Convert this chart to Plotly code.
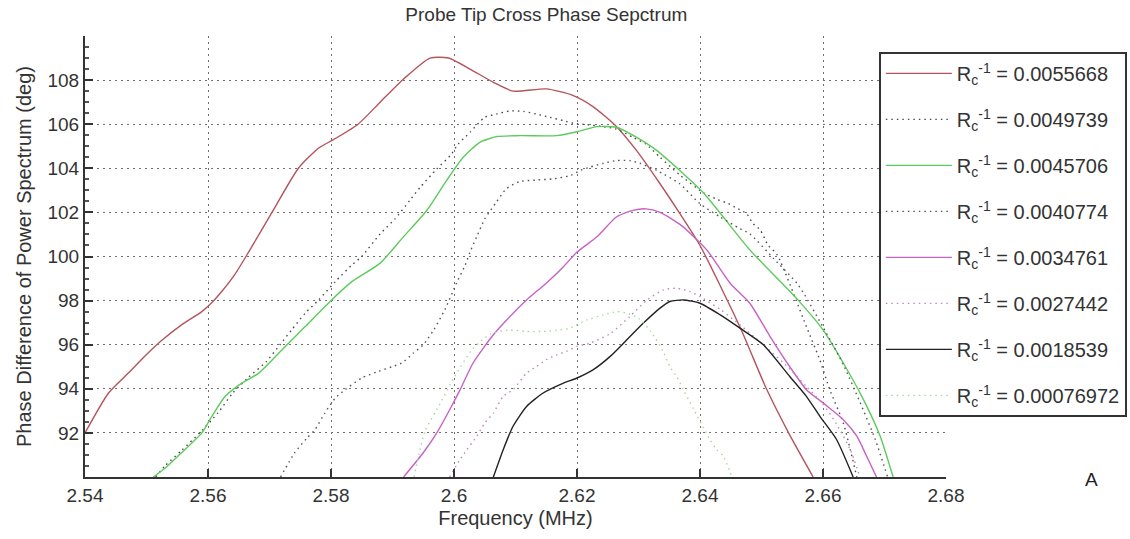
import plotly.graph_objects as go

# Frequency (MHz) / phase difference (deg) samples for each curvature value
red_x = [2.5400, 2.5438, 2.5470, 2.5498, 2.5525, 2.5557, 2.5590, 2.5606, 2.5622, 2.5644,
         2.5666, 2.5704, 2.5747, 2.5779, 2.5804, 2.5844, 2.5880, 2.5918, 2.5961, 2.5991,
         2.6026, 2.6064, 2.6096, 2.6150, 2.6194, 2.6226, 2.6264, 2.6297, 2.6335, 2.6366,
         2.6400, 2.6465, 2.6508, 2.6546, 2.6584]
red_y = [92.0, 93.8, 94.7, 95.5, 96.2, 96.9, 97.5, 97.9, 98.4, 99.2,
         100.2, 102.0, 104.0, 104.9, 105.3, 106.0, 107.0, 108.05, 109.0, 109.0,
         108.5, 107.9, 107.5, 107.6, 107.3, 106.8, 105.9, 104.8, 103.3, 102.0,
         100.5, 96.8, 94.0, 91.9, 90.0]

a_x = [2.5515, 2.5530, 2.5557, 2.5590, 2.5616, 2.5640, 2.5665, 2.5695, 2.5717, 2.5736,
       2.5758, 2.5780, 2.5807, 2.5834, 2.5850, 2.5880, 2.5904, 2.5928, 2.5945, 2.5972,
       2.5994, 2.6007, 2.6026, 2.6050, 2.6069, 2.6091, 2.6113, 2.6134, 2.6156, 2.6178,
       2.6194, 2.6216, 2.6243, 2.6264, 2.6291, 2.6312, 2.6335, 2.6367, 2.6405, 2.6427,
       2.6446, 2.6462, 2.6476, 2.6486, 2.6498, 2.6511, 2.6525, 2.6573, 2.6595, 2.6611,
       2.6633, 2.6655]
a_y = [90.0, 90.5, 91.2, 92.1, 92.9, 93.8, 94.5, 95.24, 96.0, 96.67,
       97.43, 98.03, 98.86, 99.62, 100.0, 101.03, 101.7, 102.54, 103.14, 103.97,
       104.58, 105.1, 105.63, 106.31, 106.46, 106.6, 106.58, 106.46, 106.31, 106.16,
       106.04, 105.98, 105.89, 105.78, 105.4, 105.1, 104.5, 103.7, 102.9, 102.6,
       102.4, 102.16, 101.94, 101.5, 101.2, 100.5, 100.1, 96.82, 95.3, 93.96,
       92.45, 90.0]

green_x = [2.5511, 2.5530, 2.5557, 2.5590, 2.5603, 2.5628, 2.5655, 2.5682, 2.5704, 2.5731,
           2.5758, 2.5801, 2.5834, 2.5880, 2.5918, 2.5956, 2.5988, 2.6015, 2.6042, 2.6070,
           2.6107, 2.6167, 2.6200, 2.6232, 2.6264, 2.6297, 2.6330, 2.6405, 2.6481, 2.6557,
           2.6600, 2.6633, 2.6666, 2.6693, 2.6714]
green_y = [90.0, 90.4, 91.1, 92.0, 92.6, 93.66, 94.26, 94.7, 95.3, 96.07,
           96.82, 98.03, 98.86, 99.7, 100.9, 102.1, 103.45, 104.5, 105.18, 105.44,
           105.48, 105.48, 105.66, 105.89, 105.86, 105.4, 104.8, 102.9, 100.3, 98.1,
           96.67, 95.17, 93.5, 91.85, 90.0]

b_x = [2.5718, 2.5741, 2.5761, 2.5774, 2.5790, 2.5807, 2.5823, 2.5850, 2.5877, 2.5899,
       2.5915, 2.5934, 2.5950, 2.5967, 2.5985, 2.6004, 2.6018, 2.6026, 2.6037, 2.6050,
       2.6069, 2.6085, 2.6107, 2.6134, 2.6161, 2.6189, 2.6205, 2.6221, 2.6243, 2.6264,
       2.6286, 2.6302, 2.6330, 2.6367, 2.6400, 2.6433, 2.6465, 2.6481, 2.6520, 2.6560,
       2.6600, 2.6633, 2.6660, 2.6685, 2.6705]
b_y = [90.0, 91.1, 91.77, 92.15, 92.9, 93.58, 93.96, 94.49, 94.79, 95.0,
       95.17, 95.62, 96.0, 96.67, 97.58, 98.79, 99.6, 100.2, 100.9, 101.7,
       102.47, 103.07, 103.4, 103.47, 103.52, 103.67, 103.9, 104.05, 104.23, 104.35,
       104.35, 104.23, 103.9, 103.3, 102.39, 101.79, 101.26, 101.03, 99.9, 98.7,
       96.8, 95.1, 93.4, 91.7, 90.0]

mag_x = [2.5918, 2.5950, 2.5972, 2.5993, 2.6010, 2.6031, 2.6064, 2.6091, 2.6118, 2.6150,
         2.6178, 2.6200, 2.6232, 2.6264, 2.6291, 2.6312, 2.6335, 2.6370, 2.6411, 2.6449,
         2.6481, 2.6514, 2.6546, 2.6573, 2.6600, 2.6633, 2.6655, 2.6671, 2.6687]
mag_y = [90.0, 91.1, 92.0, 93.05, 93.96, 95.17, 96.45, 97.28, 98.03, 98.79,
         99.54, 100.2, 100.88, 101.79, 102.09, 102.16, 102.0, 101.4, 100.3, 98.79,
         97.88, 96.37, 95.0, 93.96, 93.36, 92.6, 91.85, 90.94, 90.0]

c_x = [2.5993, 2.6010, 2.6021, 2.6037, 2.6050, 2.6064, 2.6080, 2.6096, 2.6118, 2.6134,
       2.6150, 2.6167, 2.6183, 2.6200, 2.6221, 2.6254, 2.6286, 2.6314, 2.6340, 2.6362,
       2.6384, 2.6400, 2.6433, 2.6465, 2.6503, 2.6546, 2.6573, 2.6600, 2.6622, 2.6645,
       2.6660]
c_y = [90.0, 90.8, 91.24, 91.85, 92.45, 92.9, 93.66, 93.96, 94.71, 95.01,
       95.32, 95.54, 95.7, 95.92, 96.07, 96.5, 97.28, 98.03, 98.48, 98.56,
       98.41, 98.18, 97.6, 96.9, 96.0, 94.9, 94.1, 93.3, 92.4, 91.2,
       90.0]

black_x = [2.6064, 2.6080, 2.6096, 2.6118, 2.6145, 2.6178, 2.6200, 2.6226, 2.6254, 2.6281,
           2.6308, 2.6335, 2.6351, 2.6373, 2.6400, 2.6433, 2.6465, 2.6503, 2.6546, 2.6573,
           2.6595, 2.6622, 2.6649]
black_y = [90.0, 91.24, 92.3, 93.2, 93.81, 94.26, 94.49, 94.86, 95.47, 96.22,
           96.98, 97.66, 97.96, 98.03, 97.88, 97.35, 96.75, 96.0, 94.56, 93.66,
           92.75, 91.7, 90.0]

d_x = [2.5935, 2.5953, 2.5972, 2.6000, 2.6030, 2.6060, 2.6091, 2.6118, 2.6145, 2.6172,
       2.6189, 2.6216, 2.6243, 2.6265, 2.6281, 2.6300, 2.6320, 2.6340, 2.6351, 2.6362,
       2.6373, 2.6390, 2.6416, 2.6427, 2.6438, 2.6452]
d_y = [90.0, 92.1, 93.05, 94.5, 95.8, 96.5, 96.67, 96.6, 96.6, 96.67,
       96.76, 97.12, 97.35, 97.5, 97.43, 97.2, 96.6, 95.7, 95.0, 94.56,
       93.96, 93.05, 91.7, 91.24, 90.94, 90.0]

labels = ["0.0055668", "0.0049739", "0.0045706", "0.0040774",
          "0.0034761", "0.0027442", "0.0018539", "0.00076972"]

series = [
    (red_x, red_y, "#b4545c", "solid"),
    (a_x, a_y, "#4a4a4a", "1.5px,4px"),
    (green_x, green_y, "#5ccb5c", "solid"),
    (b_x, b_y, "#555555", "1.5px,4px"),
    (mag_x, mag_y, "#c662c6", "solid"),
    (c_x, c_y, "#b98cb9", "1.5px,4px"),
    (black_x, black_y, "#222222", "solid"),
    (d_x, d_y, "#a6d8a6", "1.5px,4px"),
]

FONT = "Liberation Sans, Arial, sans-serif"

fig = go.Figure()
for i, ((xs, ys, color, dash), lab) in enumerate(zip(series, labels)):
    fig.add_trace(go.Scatter(
        x=xs, y=ys, mode="lines",
        line=dict(color=color, width=1.4, dash=dash, shape="spline", smoothing=0.6),
        name="R<sub>c</sub><sup>-1</sup> = " + lab,
        legendgroup=f"g{i}",
    ))

fig.update_layout(
    width=1130, height=539,
    margin=dict(l=85, r=184, t=36, b=62, autoexpand=False),
    paper_bgcolor="white", plot_bgcolor="white",
    font=dict(family=FONT, size=19, color="#333333"),
    title=dict(text="Probe Tip Cross Phase Sepctrum", x=0.4835, xref="container",
               xanchor="center", y=0.974, yanchor="middle",
               font=dict(family=FONT, size=19, color="#333333")),
    showlegend=True,
    legend=dict(x=0.922, y=0.964, xanchor="left", yanchor="top",
                bgcolor="white", bordercolor="#333333", borderwidth=2,
                font=dict(family=FONT, size=20, color="#333333"),
                itemwidth=66, tracegroupgap=17),
)

grid = dict(showgrid=True, gridcolor="#707070", gridwidth=1, griddash="2px,4px")

fig.update_xaxes(
    range=[2.54, 2.68], tickvals=[2.54, 2.56, 2.58, 2.60, 2.62, 2.64, 2.66, 2.68],
    ticktext=["2.54", "2.56", "2.58", "2.6", "2.62", "2.64", "2.66", "2.68"],
    ticks="inside", ticklen=8, tickwidth=1.5, tickcolor="#333333",
    showline=True, linecolor="#333333", linewidth=2, mirror=False,
    zeroline=False, title=dict(text="Frequency (MHz)", standoff=6,
                               font=dict(size=20)),
    tickfont=dict(size=19), **grid,
)
fig.update_yaxes(
    range=[90, 110], tickvals=[92, 94, 96, 98, 100, 102, 104, 106, 108],
    ticks="inside", ticklen=8, tickwidth=1.5, tickcolor="#333333",
    minor=dict(ticks="inside", ticklen=4, dtick=0.5, tickcolor="#555555", showgrid=False),
    showline=True, linecolor="#333333", linewidth=2, mirror=False,
    zeroline=False, title=dict(text="Phase Difference of Power Spectrum (deg)", standoff=10,
                               font=dict(size=20)),
    tickfont=dict(size=19), **grid,
)

fig.add_annotation(text="A", xref="paper", yref="paper", x=1.179, y=-0.034,
                   showarrow=False, font=dict(family=FONT, size=19, color="#222222"))

fig.write_html("out.html")
